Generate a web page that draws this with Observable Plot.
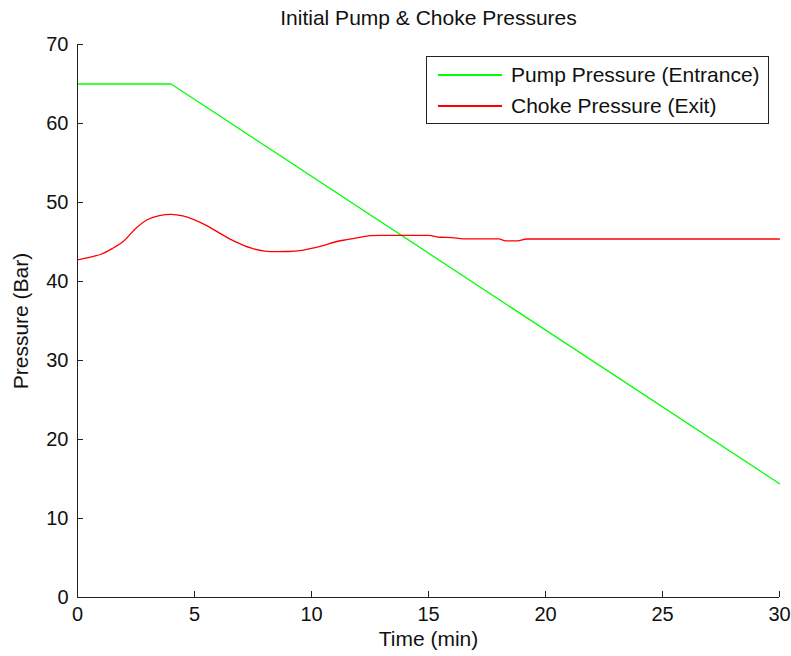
<!DOCTYPE html>
<html>
<head>
<meta charset="utf-8">
<script src="https://cdn.jsdelivr.net/npm/d3@7"></script>
<script src="https://cdn.jsdelivr.net/npm/@observablehq/plot@0.6"></script>
<style>
  html, body { margin: 0; padding: 0; background: #fff; }
  #chart { position: relative; width: 791px; height: 656px; font-family: "Liberation Sans", Arial, sans-serif; }
  #chart svg { display: block; }
  .legend {
    position: absolute; left: 426px; top: 56px; width: 343px; height: 68px;
    border: 1px solid #222; background: #fff; box-sizing: border-box;
    font-size: 21px; color: #111;
  }
  .legend .row { position: absolute; left: 11px; height: 24px; display: flex; align-items: center; }
  .legend .swatch { width: 64px; height: 1.5px; margin-right: 9px; }
</style>
</head>
<body>
<div id="chart"></div>
<script>
// Pump pressure: constant, then a linear ramp down
const pumpTime = [0, 4, 30];
const pumpPressure = [65, 65, 14.4];

// Choke pressure trace
const chokeTime = [0, 0.5, 1, 1.5, 2, 2.5, 3, 3.5, 4, 4.5, 5, 5.5, 6, 6.5, 7, 7.5, 8, 8.5, 9, 9.5, 10, 10.5, 11, 11.5, 12, 12.5, 13, 14, 15, 15.5, 16, 16.5, 18, 18.3, 18.8, 19.2, 30];
const chokePressure = [42.75, 43.05, 43.45, 44.2, 45.2, 46.75, 47.85, 48.35, 48.5, 48.3, 47.8, 47.1, 46.25, 45.4, 44.7, 44.15, 43.85, 43.78, 43.8, 43.9, 44.2, 44.55, 45.0, 45.3, 45.55, 45.8, 45.85, 45.85, 45.85, 45.6, 45.55, 45.4, 45.4, 45.15, 45.15, 45.38, 45.38];

const xTicks = [0, 5, 10, 15, 20, 25, 30];
const yTicks = [0, 10, 20, 30, 40, 50, 60, 70];

const seriesNames = ["Pump Pressure (Entrance)", "Choke Pressure (Exit)"];
const seriesColors = ["#00ff00", "#ff0000"];

const pump = pumpTime.map((t, i) => ({t, p: pumpPressure[i]}));
const choke = chokeTime.map((t, i) => ({t, p: chokePressure[i]}));

const axisColor = "#222";
const font = "\"Liberation Sans\", Arial, sans-serif";
const W = 791, H = 656, mL = 77, mR = 12, mT = 44, mB = 59;
const frameW = W - mL - mR, frameH = H - mT - mB, tickLen = 6;

const chart = Plot.plot({
  width: W,
  height: H,
  marginLeft: mL,
  marginRight: mR,
  marginTop: mT,
  marginBottom: mB,
  style: {fontFamily: font, fontSize: "20px", color: "#111", background: "#fff"},
  x: {domain: [0, 30]},
  y: {domain: [0, 70]},
  marks: [
    Plot.line(pump, {x: "t", y: "p", stroke: seriesColors[0], strokeWidth: 1.3}),
    Plot.line(choke, {x: "t", y: "p", stroke: seriesColors[1], strokeWidth: 1.3, curve: "monotone-x"}),
    // inward tick marks along the bottom and left axes
    Plot.tickX(xTicks, {x: d => d, insetTop: frameH - tickLen, stroke: axisColor}),
    Plot.tickY(yTicks, {y: d => d, insetRight: frameW - tickLen, stroke: axisColor}),
    Plot.axisX(xTicks, {tickSize: 0, tickPadding: 9, fill: "#111", fontSize: 20, label: null}),
    Plot.axisY(yTicks, {tickSize: 0, tickPadding: 9, fill: "#111", fontSize: 20, label: null}),
    Plot.ruleX([0], {stroke: axisColor}),
    Plot.ruleY([0], {stroke: axisColor}),
    Plot.text(["Initial Pump & Choke Pressures"], {frameAnchor: "top", lineAnchor: "middle", dy: -26, fontSize: 21, fill: "#111"}),
    Plot.text(["Time (min)"], {frameAnchor: "bottom", lineAnchor: "middle", dy: 42, fontSize: 21, fill: "#111"}),
    Plot.text(["Pressure (Bar)"], {frameAnchor: "left", textAnchor: "middle", lineAnchor: "middle", dx: -56, rotate: -90, fontSize: 21, fill: "#111"})
  ]
});

const root = document.getElementById("chart");
root.appendChild(chart);

// Legend box in the upper right of the axes
const legend = document.createElement("div");
legend.className = "legend";
seriesNames.forEach((name, i) => {
  const row = document.createElement("div");
  row.className = "row";
  row.style.top = (6 + i * 31) + "px";
  const sw = document.createElement("span");
  sw.className = "swatch";
  sw.style.background = seriesColors[i];
  const label = document.createElement("span");
  label.textContent = name;
  row.appendChild(sw);
  row.appendChild(label);
  legend.appendChild(row);
});
root.appendChild(legend);
</script>
</body>
</html>
